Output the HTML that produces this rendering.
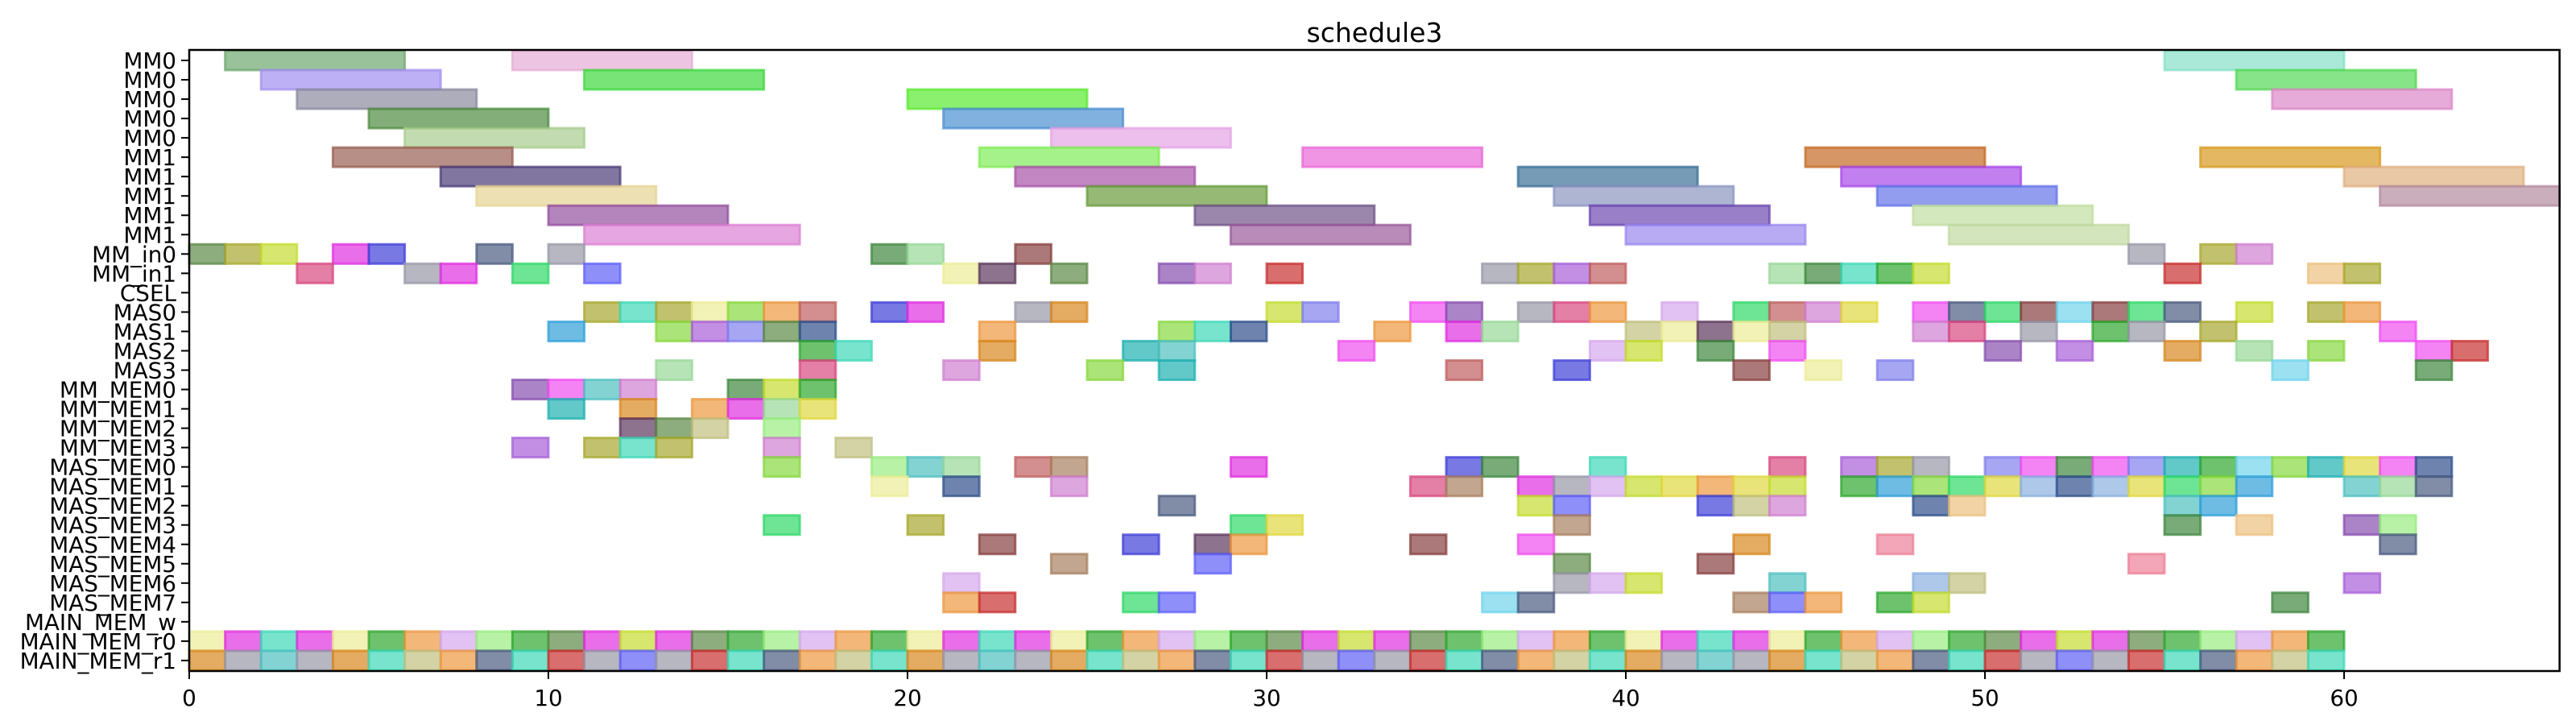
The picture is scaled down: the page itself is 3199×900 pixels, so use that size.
<!DOCTYPE html>
<html><head><meta charset="utf-8"><style>
html,body{margin:0;padding:0;background:#fff;}
svg{display:block;font-family:"DejaVu Sans","Liberation Sans",sans-serif;}
</style></head><body>
<svg id="chart" width="3199" height="900" xmlns="http://www.w3.org/2000/svg">
<text x="1707" y="52" font-size="33" text-anchor="middle">schedule3</text>
<g id="bars"></g>
<g id="axes"></g>
</svg>
<script>
const rowLabels = ["MM0","MM0","MM0","MM0","MM0","MM1","MM1","MM1","MM1","MM1","MM_in0","MM_in1","CSEL","MAS0","MAS1","MAS2","MAS3","MM_MEM0","MM_MEM1","MM_MEM2","MM_MEM3","MAS_MEM0","MAS_MEM1","MAS_MEM2","MAS_MEM3","MAS_MEM4","MAS_MEM5","MAS_MEM6","MAS_MEM7","MAIN_MEM_w","MAIN_MEM_r0","MAIN_MEM_r1"];
const xTicks = [0,10,20,30,40,50,60];
const longStarts = [[1,9,55],[2,11,57],[3,20,58],[5,21],[6,24],[4,22,31,45,56],[7,23,37,46,60],[8,25,38,47,61],[10,28,39,48],[11,29,40,49]];
const longDurations = [[5,5,5],[5,5,5],[5,5,5],[5,5],[5,5],[5,5,5,5,5],[5,5,5,5,5],[5,5,5,5,5],[5,5,5,5],[6,5,5,5]];
const longColors = [["#6fa86f","#e6acd6","#86e0c8"],["#a38ff0","#3fd83f","#55d855"],["#8a8aa0","#5aea30","#dc88c8"],["#4f8c42","#4b90d0"],["#a8cc8e","#e4a4e4"],["#985f52","#80ec58","#ea68d8","#c46a24","#d89a20"],["#4c3c78","#a854a8","#3c7098","#a848ea","#e0b080"],["#e6d494","#6a9c3c","#8c96c0","#6474e8","#b48ca0"],["#9450a0","#705488","#6c48b0","#c0dea0"],["#dc80d4","#9a5a9a","#9a88f0","#c0daa0"]];
const unitStarts = {
10:[0,1,2,4,5,8,10,19,20,23,54,56,57],
11:[3,6,7,9,11,21,22,24,27,28,30,36,37,38,39,44,45,46,47,48,55,59,60],
12:[],
13:[11,12,13,14,15,16,17,19,20,23,24,30,31,34,35,37,38,39,41,43,44,45,46,48,49,50,51,52,53,54,55,57,59,60],
14:[10,13,14,15,16,17,22,27,28,29,33,35,36,40,41,42,43,44,48,49,51,53,54,56,61],
15:[17,18,22,26,27,32,39,40,42,44,50,52,55,57,59,62,63],
16:[13,17,21,25,27,35,38,43,45,47,58,62],
17:[9,10,11,12,15,16,17],
18:[10,12,14,15,16,17],
19:[12,13,14,16],
20:[9,11,12,13,16,18],
21:[16,19,20,21,23,24,29,35,36,39,44,46,47,48,50,51,52,53,54,55,56,57,58,59,60,61,62],
22:[19,21,24,34,35,37,38,39,40,41,42,43,44,46,47,48,49,50,51,52,53,54,55,56,57,60,61,62],
23:[27,37,38,42,43,44,48,49,55,56],
24:[16,20,29,30,38,55,57,60,61],
25:[22,26,28,29,34,37,43,47,61],
26:[24,28,38,42,54],
27:[21,38,39,40,44,48,49,60],
28:[21,22,26,27,36,37,43,44,45,47,48,58],
29:[],
30:[0,1,2,3,4,5,6,7,8,9,10,11,12,13,14,15,16,17,18,19,20,21,22,23,24,25,26,27,28,29,30,31,32,33,34,35,36,37,38,39,40,41,42,43,44,45,46,47,48,49,50,51,52,53,54,55,56,57,58,59],
31:[0,1,2,3,4,5,6,7,8,9,10,11,12,13,14,15,16,17,18,19,20,21,22,23,24,25,26,27,28,29,30,31,32,33,34,35,36,37,38,39,40,41,42,43,44,45,46,47,48,49,50,51,52,53,54,55,56,57,58,59]
};
const palette = ["#8ab0e0","#e0d840","#40d8b8","#d84880","#4040d8","#88d840","#a860d8","#d88820","#30a0d8","#e030e0","#5c8a48","#c0c080","#ec8098","#30508c","#98ec80","#884040","#30d868","#d4a8ec","#a88060","#50c0c0","#f050f0","#8080ec","#c4dc30","#5c385c","#ecc080","#30a830","#9898a8","#c83030","#70d4ec","#a8a830","#ecec98","#4c5c80","#d080d0","#408840","#ec9840","#8850b0","#20b0b0","#c06060","#98d898","#6060f8"];
const X0 = 235, PXU = 44.6, XMAX = 66, Y0 = 75, ROWH = 24.03, TOP = 62, BOT = 833;
function xs(v){ return X0 + v*PXU; }
function ys(i){ return Y0 + i*ROWH; }
const NS = "http://www.w3.org/2000/svg";
const gb = document.getElementById("bars");
function bar(row, start, dur, color, name){
  const r = document.createElementNS(NS,"rect");
  r.setAttribute("x", xs(start)); r.setAttribute("y", ys(row)-ROWH/2);
  r.setAttribute("width", dur*PXU); r.setAttribute("height", ROWH);
  r.setAttribute("fill", color); r.setAttribute("fill-opacity","0.7");
  r.setAttribute("stroke", color); r.setAttribute("stroke-opacity","0.75"); r.setAttribute("stroke-width","3");
  
  
  gb.appendChild(r);
}
longStarts.forEach((arr,row)=>arr.forEach((s,k)=>bar(row,s,longDurations[row][k],longColors[row][k],"task-bar")));
Object.keys(unitStarts).forEach(key=>{
  const row = +key;
  unitStarts[key].forEach((s,k)=>{
    const c = palette[(row*97 + s*s*7 + s*11 + k) % palette.length];
    bar(row,s,1,c,"task-cell");
  });
});
const ga = document.getElementById("axes");
function el(tag, attrs, text){
  const e = document.createElementNS(NS, tag);
  for (const k in attrs) e.setAttribute(k, attrs[k]);
  if (text !== undefined) e.textContent = text;
  ga.appendChild(e); return e;
}
const frame = el("rect",{x:X0,y:TOP,width:XMAX*PXU,height:BOT-TOP,fill:"none",stroke:"#000","stroke-width":"2.5"});


rowLabels.forEach((lab,i)=>{
  const t = el("line",{x1:X0-10,x2:X0,y1:ys(i),y2:ys(i),stroke:"#000","stroke-width":"2"});
  
  
  const tx = el("text",{x:X0-16,y:ys(i)+10,"font-size":"27.8","text-anchor":"end"},lab);
  
  
});
xTicks.forEach(v=>{
  const t = el("line",{x1:xs(v),x2:xs(v),y1:BOT,y2:BOT+10,stroke:"#000","stroke-width":"2"});
  
  
  const tx = el("text",{x:xs(v),y:BOT+43,"font-size":"27.8","text-anchor":"middle"},String(v));
  
  
});
</script>
</body></html>
